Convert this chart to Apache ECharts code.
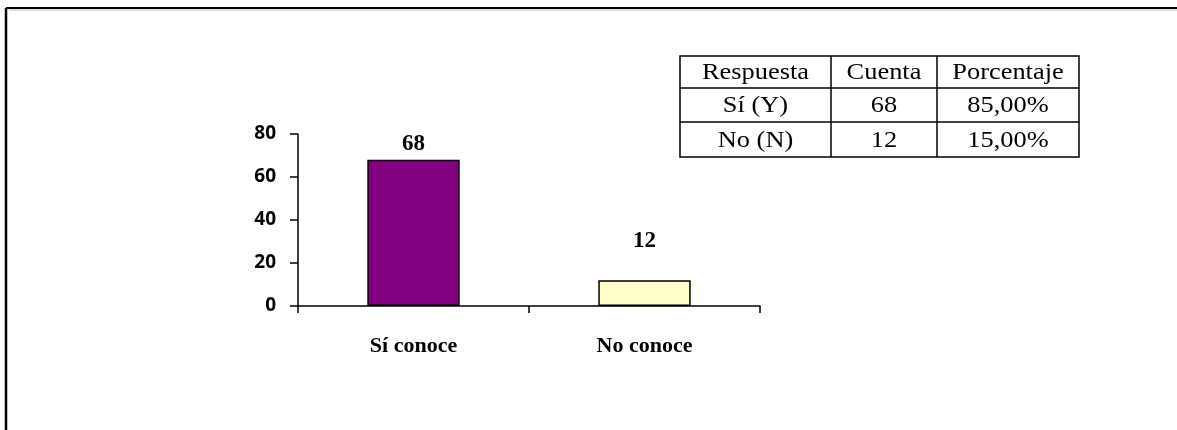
<!DOCTYPE html>
<html>
<head>
<meta charset="utf-8">
<style>
  html, body { margin: 0; padding: 0; background: #fff; }
  #chart { width: 1177px; height: 430px; }
</style>
<script src="https://cdn.jsdelivr.net/npm/echarts@6/dist/echarts.min.js"></script>
</head>
<body>
<div id="chart"></div>
<script>
// Survey answers: does the respondent know it?
const categories = ['Sí conoce', 'No conoce'];
const counts = [68, 12];
const barColors = ['#800080', '#FFFFCC'];
const labelGaps = [4, 28];
const yTicks = [0, 20, 40, 60, 80];

// Summary table
const tableHeader = ['Respuesta', 'Cuenta', 'Porcentaje'];
const tableRows = [
  ['Sí (Y)', '68', '85,00%'],
  ['No (N)', '12', '15,00%']
];

const chart = echarts.init(document.getElementById('chart'), null, { renderer: 'canvas' });

// Table geometry
const colEdges = [680, 831, 937, 1079];
const rowEdges = [56, 88, 122, 157];
const tableGraphics = [];
tableGraphics.push({
  type: 'rect',
  shape: { x: colEdges[0], y: rowEdges[0], width: colEdges[3] - colEdges[0], height: rowEdges[3] - rowEdges[0] },
  style: { fill: '#fff', stroke: '#000', lineWidth: 1.5 }
});
for (let i = 1; i < colEdges.length - 1; i++) {
  tableGraphics.push({ type: 'line', shape: { x1: colEdges[i], y1: rowEdges[0], x2: colEdges[i], y2: rowEdges[3] }, style: { stroke: '#000', lineWidth: 1.5 } });
}
for (let j = 1; j < rowEdges.length - 1; j++) {
  tableGraphics.push({ type: 'line', shape: { x1: colEdges[0], y1: rowEdges[j], x2: colEdges[3], y2: rowEdges[j] }, style: { stroke: '#000', lineWidth: 1.5 } });
}
const allRows = [tableHeader].concat(tableRows);
allRows.forEach((row, r) => {
  row.forEach((txt, c) => {
    tableGraphics.push({
      type: 'text',
      x: (colEdges[c] + colEdges[c + 1]) / 2,
      y: (rowEdges[r] + rowEdges[r + 1]) / 2 + 1,
      scaleX: 1.1,
      style: {
        text: txt,
        fill: '#000',
        font: '24px "Liberation Serif", "Times New Roman", serif',
        align: 'center',
        verticalAlign: 'middle'
      }
    });
  });
});

// Frame around the chart area (left and top edges)
const frame = [
  { type: 'line', shape: { x1: 6, y1: 8, x2: 1177, y2: 8 }, style: { stroke: '#000', lineWidth: 2 } },
  { type: 'line', shape: { x1: 9, y1: 10, x2: 1177, y2: 10 }, style: { stroke: '#bbb', lineWidth: 1 } },
  { type: 'line', shape: { x1: 6, y1: 8, x2: 6, y2: 430 }, style: { stroke: '#000', lineWidth: 2.5 } }
];

chart.setOption({
  animation: false,
  backgroundColor: '#fff',
  grid: { left: 298, right: 417, top: 134, bottom: 124 },
  xAxis: {
    type: 'category',
    data: categories,
    axisLine: { lineStyle: { color: '#000', width: 1.5 } },
    axisTick: { show: true, length: 7, inside: false, lineStyle: { color: '#000', width: 1.5 } },
    axisLabel: {
      margin: 29,
      color: '#000',
      fontFamily: '"Liberation Serif", "Times New Roman", serif',
      fontWeight: 'bold',
      fontSize: 22
    }
  },
  yAxis: {
    type: 'value',
    min: 0,
    max: 80,
    interval: 20,
    splitLine: { show: false },
    axisLine: { show: true, lineStyle: { color: '#000', width: 1.5 } },
    axisTick: { show: true, length: 8, lineStyle: { color: '#000', width: 1.5 } },
    axisLabel: {
      margin: 22,
      color: '#000',
      fontFamily: '"Open Sans", "Liberation Sans", sans-serif',
      fontWeight: 'bold',
      fontSize: 19,
      formatter: v => (yTicks.includes(v) ? String(v) : '')
    }
  },
  series: [{
    type: 'bar',
    barCategoryGap: '60%',
    data: counts.map((v, i) => ({
      value: v,
      itemStyle: { color: barColors[i], borderColor: '#000', borderWidth: 1.5 },
      label: { distance: labelGaps[i] }
    })),
    label: {
      show: true,
      position: 'top',
      color: '#000',
      fontFamily: '"Liberation Serif", "Times New Roman", serif',
      fontWeight: 'bold',
      fontSize: 23
    }
  }],
  graphic: frame.concat(tableGraphics)
});
</script>
</body>
</html>
